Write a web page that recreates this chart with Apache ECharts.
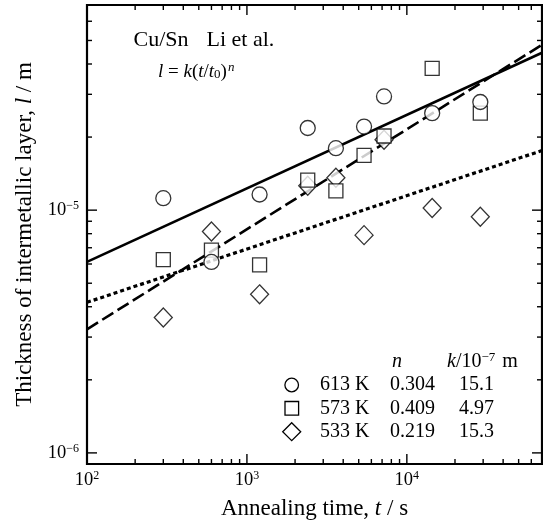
<!DOCTYPE html>
<html><head><meta charset="utf-8">
<script src="https://cdn.jsdelivr.net/npm/echarts@6/dist/echarts.min.js"></script>
<style>html,body{margin:0;padding:0;background:#fff}#c{width:543px;height:525px}</style>
</head><body><div id="c"></div>
<script>
// ---- data ----
const times = [300, 600, 1200, 2400, 3600, 5400, 7200, 14400, 28800];
const l613 = [1.12e-5, 6.12e-6, 1.16e-5, 2.18e-5, 1.80e-5, 2.21e-5, 2.94e-5, 2.51e-5, 2.79e-5];
const l573 = [6.26e-6, 6.84e-6, 5.95e-6, 1.33e-5, 1.20e-5, 1.68e-5, 2.02e-5, 3.84e-5, 2.51e-5];
const l533 = [3.61e-6, 8.17e-6, 4.50e-6, 1.26e-5, 1.36e-5, 7.89e-6, 1.95e-5, 1.02e-5, 9.39e-6];
const fitT = [100, 70000];
const fit613 = [6.12e-6, 4.45e-5];
const fit573 = [3.23e-6, 4.80e-5];
const fit533 = [4.17e-6, 1.76e-5];
const temps = ['613 K', '573 K', '533 K'];
const nVals = ['0.304', '0.409', '0.219'];
const kVals = ['15.1', '4.97', '15.3'];
const xMajor = [100, 1000, 10000];
const xMinor = [200, 300, 400, 500, 600, 700, 800, 900, 2000, 3000, 4000, 5000, 6000, 7000, 8000, 9000, 20000, 30000, 40000, 50000, 60000];
const yMajor = [1e-6, 1e-5];
const yMinor = [2e-6, 3e-6, 4e-6, 5e-6, 6e-6, 7e-6, 8e-6, 9e-6, 2e-5, 3e-5, 4e-5, 5e-5, 6e-5];
const X_MIN = 100, X_MAX = 70000, Y_MIN = 9e-7, Y_MAX = 7e-5;

const FONT = '"Liberation Serif", "Times New Roman", serif';
const chart = echarts.init(document.getElementById('c'), null, {renderer: 'canvas'});

function pw(v) {
  const e = Math.log10(v), r = Math.round(e);
  if (Math.abs(e - r) > 1e-6) return '';
  return '{b|10}{s|' + (r < 0 ? '\u2212' + (-r) : r) + '}';
}
const labelRich = {
  b: {fontFamily: FONT, fontSize: 18.5, color: '#000'},
  s: {fontFamily: FONT, fontSize: 12, color: '#000', padding: [0, 0, 9, 0]}
};
const nameRich = {
  r: {fontFamily: FONT, fontSize: 23, color: '#000'},
  i: {fontFamily: FONT, fontSize: 23, color: '#000', fontStyle: 'italic'}
};

function xTickSeries(vals, len) {
  return {
    type: 'custom', silent: true, clip: false, z: 6,
    data: vals.map(v => [v, Y_MIN]),
    encode: {x: 0, y: 1},
    renderItem(params, api) {
      const v = api.value(0);
      const b = api.coord([v, Y_MIN]), t = api.coord([v, Y_MAX]);
      const st = {stroke: '#000', lineWidth: 1.4};
      return {type: 'group', children: [
        {type: 'line', shape: {x1: b[0], y1: b[1], x2: b[0], y2: b[1] - len}, style: st},
        {type: 'line', shape: {x1: t[0], y1: t[1], x2: t[0], y2: t[1] + len}, style: st}
      ]};
    }
  };
}
function yTickSeries(vals, len) {
  return {
    type: 'custom', silent: true, clip: false, z: 6,
    data: vals.map(v => [X_MIN, v]),
    encode: {x: 0, y: 1},
    renderItem(params, api) {
      const v = api.value(1);
      const l = api.coord([X_MIN, v]), r = api.coord([X_MAX, v]);
      const st = {stroke: '#000', lineWidth: 1.4};
      return {type: 'group', children: [
        {type: 'line', shape: {x1: l[0], y1: l[1], x2: l[0] + len, y2: l[1]}, style: st},
        {type: 'line', shape: {x1: r[0], y1: r[1], x2: r[0] - len, y2: r[1]}, style: st}
      ]};
    }
  };
}

const mk = {color: '#fff', borderColor: '#000', borderWidth: 1.3};
function pairs(xs, ys) { return xs.map((x, i) => [x, ys[i]]); }

const legendY = [385, 408.3, 431.7];
const legendSym = [
  {type: 'circle', shape: {cx: 291.7, cy: legendY[0], r: 6.8}},
  {type: 'rect', shape: {x: 285, y: legendY[1] - 6.8, width: 13.6, height: 13.6}},
  {type: 'polygon', shape: {points: [[291.7, legendY[2] - 9], [300.7, legendY[2]], [291.7, legendY[2] + 9], [282.7, legendY[2]]]}}
];
const graphics = [];
legendSym.forEach(s => graphics.push(Object.assign({}, s, {style: {fill: '#fff', stroke: '#000', lineWidth: 1.3}})));
temps.forEach((t, i) => {
  graphics.push({type: 'text', style: {text: t, x: 320, y: legendY[i], font: '20px ' + FONT, fill: '#000', verticalAlign: 'middle'}});
  graphics.push({type: 'text', style: {text: nVals[i], x: 390, y: legendY[i], font: '20px ' + FONT, fill: '#000', verticalAlign: 'middle'}});
  graphics.push({type: 'text', style: {text: kVals[i], x: 494, y: legendY[i], font: '20px ' + FONT, fill: '#000', align: 'right', verticalAlign: 'middle'}});
});
graphics.push({type: 'text', style: {text: 'n', x: 392, y: 361.7, font: 'italic 20px ' + FONT, fill: '#000', verticalAlign: 'middle'}});
graphics.push({type: 'text', style: {
  text: '{i|k}{r|/10}{s|\u22127}{r| m}', x: 447, y: 361.7, verticalAlign: 'middle',
  rich: {
    i: {fontFamily: FONT, fontSize: 20, fontStyle: 'italic', fill: '#000'},
    r: {fontFamily: FONT, fontSize: 20, fill: '#000'},
    s: {fontFamily: FONT, fontSize: 13, fill: '#000', padding: [0, 2, 9, 0]}
  }
}});
graphics.push({type: 'text', style: {text: 'Cu/Sn', x: 133.5, y: 40, font: '22px ' + FONT, fill: '#000', verticalAlign: 'middle'}});
graphics.push({type: 'text', style: {text: 'Li et al.', x: 206.5, y: 40, font: '22px ' + FONT, fill: '#000', verticalAlign: 'middle'}});
graphics.push({type: 'text', style: {
  text: '{i|l}{r| = }{i|k}{r|(}{i|t}{r|/}{i|t}{d|0}{r|)}{u|n}', x: 158, y: 72, verticalAlign: 'middle',
  rich: {
    i: {fontFamily: FONT, fontSize: 19, fontStyle: 'italic', fill: '#000'},
    r: {fontFamily: FONT, fontSize: 19, fill: '#000'},
    d: {fontFamily: FONT, fontSize: 13, fill: '#000', padding: [6, 0, 0, 0]},
    u: {fontFamily: FONT, fontSize: 13, fontStyle: 'italic', fill: '#000', padding: [0, 0, 9, 1]}
  }
}});

chart.setOption({
  animation: false,
  backgroundColor: '#fff',
  grid: {left: 87, top: 5, right: 1, bottom: 60, show: true, borderColor: '#000', borderWidth: 2.2, backgroundColor: 'transparent'},
  xAxis: {
    type: 'log', logBase: 10, min: X_MIN, max: X_MAX,
    axisLine: {show: false}, axisTick: {show: false}, splitLine: {show: false}, minorTick: {show: false},
    axisLabel: {formatter: pw, rich: labelRich, margin: 6, showMinLabel: true, showMaxLabel: false},
    name: '{r|Annealing time, }{i|t}{r| / s}', nameLocation: 'middle', nameGap: 33,
    nameTextStyle: {rich: nameRich}
  },
  yAxis: {
    type: 'log', logBase: 10, min: Y_MIN, max: Y_MAX,
    axisLine: {show: false}, axisTick: {show: false}, splitLine: {show: false}, minorTick: {show: false},
    axisLabel: {formatter: pw, rich: labelRich, margin: 8},
    name: '{r|Thickness of intermetallic layer, }{i|l}{r| / m}', nameLocation: 'middle', nameRotate: 90, nameGap: 47,
    nameTextStyle: {rich: nameRich}
  },
  series: [
    {type: 'line', name: 'fit 613 K', data: pairs(fitT, fit613), symbol: 'none', z: 2, lineStyle: {color: '#000', width: 2.6, type: 'solid'}},
    {type: 'line', name: 'fit 573 K', data: pairs(fitT, fit573), symbol: 'none', z: 2, lineStyle: {color: '#000', width: 2.6, type: [13, 5]}},
    {type: 'line', name: 'fit 533 K', data: pairs(fitT, fit533), symbol: 'none', z: 2, lineStyle: {color: '#000', width: 3.2, type: [4, 3]}},
    {type: 'scatter', name: '533 K', data: pairs(times, l533), symbol: 'diamond', symbolSize: [18, 19], z: 3, itemStyle: mk},
    {type: 'scatter', name: '573 K', data: pairs(times, l573), symbol: 'rect', symbolSize: 14, z: 3, itemStyle: mk},
    {type: 'scatter', name: '613 K', data: pairs(times, l613), symbol: 'circle', symbolSize: 15, z: 3, itemStyle: mk},
    xTickSeries(xMajor, 10), xTickSeries(xMinor, 5),
    yTickSeries(yMajor, 10), yTickSeries(yMinor, 5)
  ],
  graphic: graphics
});
</script></body></html>
